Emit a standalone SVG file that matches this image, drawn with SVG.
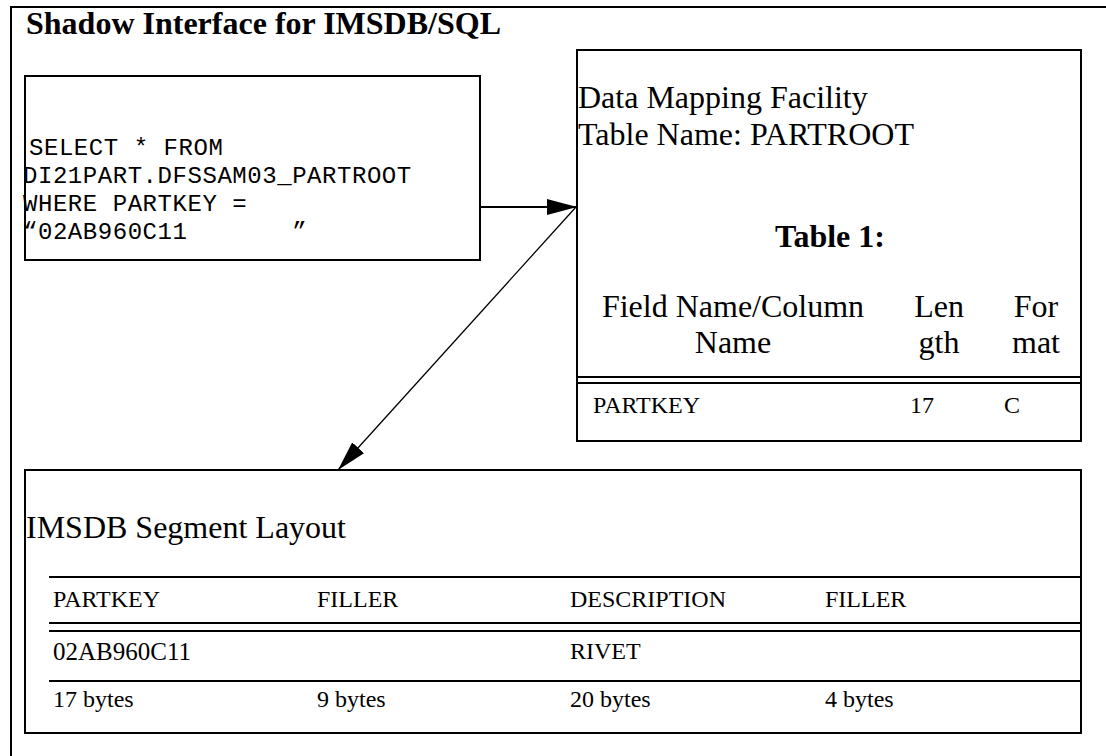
<svg xmlns="http://www.w3.org/2000/svg" width="1106" height="756" viewBox="0 0 1106 756">
<defs>
<marker id="ah" markerUnits="userSpaceOnUse" viewBox="0 0 30 16" markerWidth="30" markerHeight="16" refX="30" refY="8" orient="auto">
<path d="M0,0 L30,8 L0,16 Z" fill="#000"/>
</marker>
<style>
.box{fill:#fff;stroke:#000;stroke-width:2}
.ln{stroke:#000;stroke-width:2;fill:none}
.serif{font-family:"Liberation Serif","Times New Roman",serif;fill:#000}
.mono{font-family:"Liberation Mono","Courier New",monospace;font-size:24px;letter-spacing:0.55px;fill:#000}
.big{font-size:32px}
.sm{font-size:24px}
</style>
</defs>
<rect width="1106" height="756" fill="#fff"/>
<g id="frame">
<path class="ln" d="M11,756 L11,7 L1106,7"/>
<text class="serif" x="26" y="34" font-size="32" font-weight="bold">Shadow Interface for IMSDB/SQL</text>
</g>
<g id="sql">
<rect class="box" x="25" y="76" width="455" height="184"/>
<text class="mono" x="29" y="155">SELECT * FROM</text>
<text class="mono" x="23" y="183">DI21PART.DFSSAM03_PARTROOT</text>
<text class="mono" x="23" y="211">WHERE PARTKEY =</text>
<text class="mono" x="23" y="239" xml:space="preserve">“02AB960C11       ”</text>
</g>
<g id="mapping">
<rect class="box" x="577" y="50" width="504" height="391"/>
<text class="serif big" x="578" y="108">Data Mapping Facility</text>
<text class="serif big" x="578" y="145">Table Name: PARTROOT</text>
<text class="serif big" x="830" y="247" text-anchor="middle" font-weight="bold">Table 1:</text>
<text class="serif big" x="733" y="317" text-anchor="middle">Field Name/Column</text>
<text class="serif big" x="733" y="353" text-anchor="middle">Name</text>
<text class="serif big" x="939" y="317" text-anchor="middle">Len</text>
<text class="serif big" x="939" y="353" text-anchor="middle">gth</text>
<text class="serif big" x="1036" y="317" text-anchor="middle">For</text>
<text class="serif big" x="1036" y="353" text-anchor="middle">mat</text>
<path class="ln" d="M577,377 H1081 M577,383 H1081"/>
<text class="serif sm" x="593" y="413">PARTKEY</text>
<text class="serif sm" x="910" y="413">17</text>
<text class="serif sm" x="1004" y="413">C</text>
</g>
<g id="segment">
<rect class="box" x="25" y="470" width="1056" height="263"/>
<text class="serif big" x="26" y="538">IMSDB Segment Layout</text>
<path class="ln" d="M49,577 H1081 M49,623 H1081 M49,631 H1081 M49,681 H1081"/>
<text class="serif sm" x="53" y="607">PARTKEY</text>
<text class="serif sm" x="317" y="607">FILLER</text>
<text class="serif sm" x="570" y="607">DESCRIPTION</text>
<text class="serif sm" x="825" y="607">FILLER</text>
<text class="serif" x="53" y="660" font-size="25">02AB960C11</text>
<text class="serif sm" x="570" y="659">RIVET</text>
<text class="serif sm" x="53" y="707">17 bytes</text>
<text class="serif sm" x="317" y="707">9 bytes</text>
<text class="serif sm" x="570" y="707">20 bytes</text>
<text class="serif sm" x="825" y="707">4 bytes</text>
</g>
<g id="connectors">
<line x1="480" y1="207" x2="577" y2="207" stroke="#000" stroke-width="2" marker-end="url(#ah)"/>
<line x1="576" y1="207" x2="338" y2="470" stroke="#000" stroke-width="1.3" marker-end="url(#ah)"/>
</g>
</svg>
